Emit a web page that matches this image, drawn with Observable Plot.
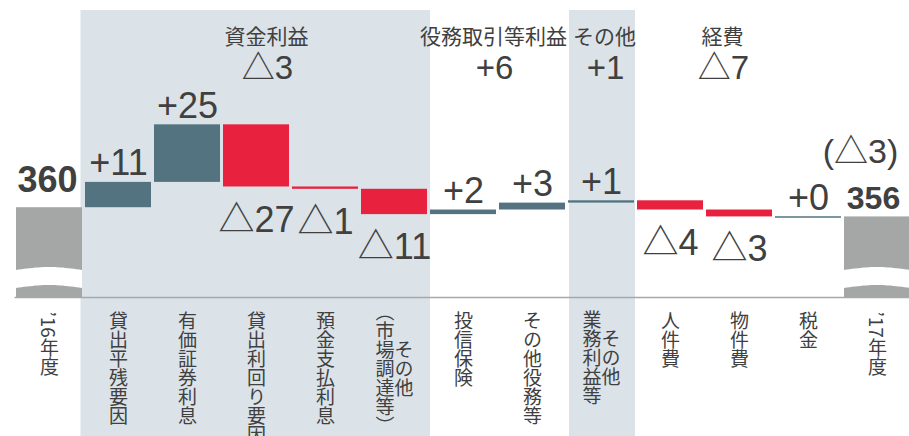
<!DOCTYPE html>
<html>
<head>
<meta charset="utf-8">
<script src="https://cdn.jsdelivr.net/npm/d3@7"></script>
<script src="https://cdn.jsdelivr.net/npm/@observablehq/plot@0.6"></script>
<style>
  html, body { margin: 0; padding: 0; background: #fff; overflow: hidden; }
  #chart svg g[font-size="19"] text { writing-mode: vertical-rl; }
</style>
</head>
<body>
<div id="chart"></div>
<script>
// ---- data ----
const categories = ["’16年度","貸出平残要因","有価証券利息","貸出利回り要因","預金支払利息","その他（市場調達等）","投信保険","その他役務等","その他業務利益等","人件費","物件費","税金","’17年度"];
const tickLines = [["’16年度"],["貸出平残要因"],["有価証券利息"],["貸出利回り要因"],["預金支払利息"],["その他","（市場調達等）"],["投信保険"],["その他役務等"],["その他","業務利益等"],["人件費"],["物件費"],["税金"],["’17年度"]];
const startValue = 360;
const endValue = 356;
const deltas = [11, 25, -27, -1, -11, 2, 3, 1, -4, -3, 0];
const groupNames = ["資金利益","役務取引等利益","その他","経費"];
const groupTotals = ["△3","+6","+1","△7"];
const groupAnchors = ["貸出利回り要因","投信保険","その他業務利益等","物件費"];
const shadedFunding = ["貸出平残要因","有価証券利息","貸出利回り要因","預金支払利息","その他（市場調達等）"];
const shadedOther = ["その他業務利益等"];
const totalChangeLabel = "(△3)";

// ---- layout / style ----
const W = 909, H = 436, mB = 139;
const yFloor = 321, yTop = 450;
const BLUE = "#52737f", RED = "#e8213e", GRAY = "#a5a6a6", SHADE = "#dbe3e9", INK = "#404040";
const LATIN = "'Liberation Sans', Arial, 'Noto Sans CJK JP', sans-serif";
const CJK = "'Noto Sans CJK JP', 'Liberation Sans', sans-serif";
const headerDx = [10, 30, 3, -17];

// waterfall rows
let run = startValue;
const steps = deltas.map((d, i) => {
  const from = run; run += d;
  return {cat: categories[i + 1], delta: d, from, to: run,
          sign: d >= 0 ? "pos" : "neg",
          label: d >= 0 ? "+" + d : "△" + Math.abs(d)};
});
const totals = [
  {cat: categories[0], value: startValue},
  {cat: categories[categories.length - 1], value: endValue}
];
const groups = groupNames.map((n, i) => ({name: n, total: groupTotals[i], cat: groupAnchors[i]}));

// tick label marks (vertical writing)
const fs = 19;
const tickMarks = [];
const visLen = s => Array.from(s).reduce((a, ch) => a + (ch === "（" || ch === "）" ? 0.6 : 1), 0);
tickLines.forEach((lines, i) => {
  const cat = categories[i];
  if (lines.length === 1) {
    tickMarks.push(Plot.text([cat], {x: d => d, text: () => lines[0], frameAnchor: "bottom",
      dy: 14, textAnchor: "start", lineAnchor: "bottom", fontSize: fs, fill: INK, fontFamily: CJK}));
  } else {
    const maxLen = d3.max(lines, visLen);
    lines.forEach((l, j) => {
      const dx = ((lines.length - 1) / 2 - j) * fs;
      tickMarks.push(Plot.text([cat], {x: d => d, text: () => l, frameAnchor: "bottom",
        dx, dy: 12.5 + maxLen * fs / 2, textAnchor: "middle", lineAnchor: "bottom",
        fontSize: fs, fill: INK, fontFamily: CJK}));
    });
  }
});

const headerMarks = [];
groups.forEach((g, i) => {
  headerMarks.push(Plot.text([g], {x: "cat", text: "name", frameAnchor: "top", dx: headerDx[i], dy: 43,
    lineAnchor: "bottom", fontSize: 21, fill: INK, fontFamily: CJK}));
  headerMarks.push(Plot.text([g], {x: "cat", text: "total", frameAnchor: "top", dx: headerDx[i] + 1, dy: 78.5,
    lineAnchor: "bottom", fontSize: 33, fill: INK, fontFamily: LATIN}));
});

const chart = Plot.plot({
  width: W, height: H,
  marginLeft: 14.5, marginRight: -2.5, marginTop: 0, marginBottom: mB,
  x: {domain: categories, padding: 0, round: false, axis: null},
  y: {domain: [yFloor, yTop], axis: null},
  color: {domain: ["pos", "neg", "total"], range: [BLUE, RED, GRAY]},
  style: {background: "white", color: INK, fontFamily: LATIN, overflow: "hidden"},
  marks: [
    Plot.cell(shadedFunding, {x: d => d, fill: SHADE, insetTop: 10, insetBottom: -mB, insetLeft: -3, insetRight: -1.5}),
    Plot.cell(shadedOther, {x: d => d, fill: SHADE, insetTop: 10, insetBottom: -mB, insetLeft: 2.5, insetRight: 0.5}),
    Plot.barY(totals, {x: "cat", y1: () => yFloor, y2: "value", fill: () => "total", insetLeft: 1.5, insetRight: 1.5}),
    Plot.barY(steps.filter(d => d.delta !== 0), {x: "cat", y1: "from", y2: "to", fill: "sign", insetLeft: 1.5, insetRight: 1.5}),
    Plot.tickY(steps.filter(d => d.delta === 0), {x: "cat", y: "to", stroke: BLUE, strokeWidth: 1.5, insetLeft: 1.5, insetRight: 1.5}),
    Plot.ruleY([yFloor], {stroke: "#a8a8a8", strokeWidth: 1.5}),
    // change labels
    Plot.text(steps.filter(d => d.delta >= 0), {x: "cat", y: "to", text: "label", dy: -7, lineAnchor: "bottom", fontSize: 36, fill: INK}),
    Plot.text(steps.filter(d => d.delta < 0), {x: "cat", y: "to", text: "label", dy: 19, lineAnchor: "top", fontSize: 36, fill: INK}),
    // totals
    Plot.text(totals.slice(0, 1), {x: "cat", y: "value", text: d => String(d.value), dx: -2, dy: -15.5, lineAnchor: "bottom", fontSize: 36, fontWeight: "bold", fill: INK}),
    Plot.text(totals.slice(1), {x: "cat", y: "value", text: d => String(d.value), dx: -4, dy: -7.5, lineAnchor: "bottom", fontSize: 32, fontWeight: "bold", fill: INK}),
    Plot.text(totals.slice(1), {x: "cat", y: "value", text: () => totalChangeLabel, dx: -17, dy: -54, lineAnchor: "bottom", fontSize: 34, fill: INK}),
    ...headerMarks,
    ...tickMarks
  ]
});
document.getElementById("chart").appendChild(chart);

// ---- axis-break waves on the total bars ----
(function () {
  const xs = chart.scale("x"), ys = chart.scale("y");
  const xb = d3.scaleBand().domain(xs.domain).range(xs.range).paddingInner(xs.paddingInner || 0).paddingOuter(xs.paddingOuter || 0).align(xs.align == null ? 0.5 : xs.align);
  const yl = d3.scaleLinear().domain(ys.domain).range(ys.range);
  const yb = yl(yFloor);
  const g = d3.select(chart).append("g");
  totals.forEach(t => {
    const x0 = xb(t.cat) + 1.5, w = xb.bandwidth() - 3;
    const N = 24, top = [], bot = [];
    for (let k = 0; k <= N; k++) {
      const tt = k / N, off = 1.5 - 3 * Math.sin(Math.PI * tt);
      top.push([x0 + tt * w, yb - 28.5 + off]);
      bot.push([x0 + tt * w, yb - 10.5 + off]);
    }
    const pts = top.concat(bot.reverse());
    g.append("path").attr("d", "M" + pts.map(p => p.join(",")).join("L") + "Z").attr("fill", "white");
  });
})();
</script>
</body>
</html>
